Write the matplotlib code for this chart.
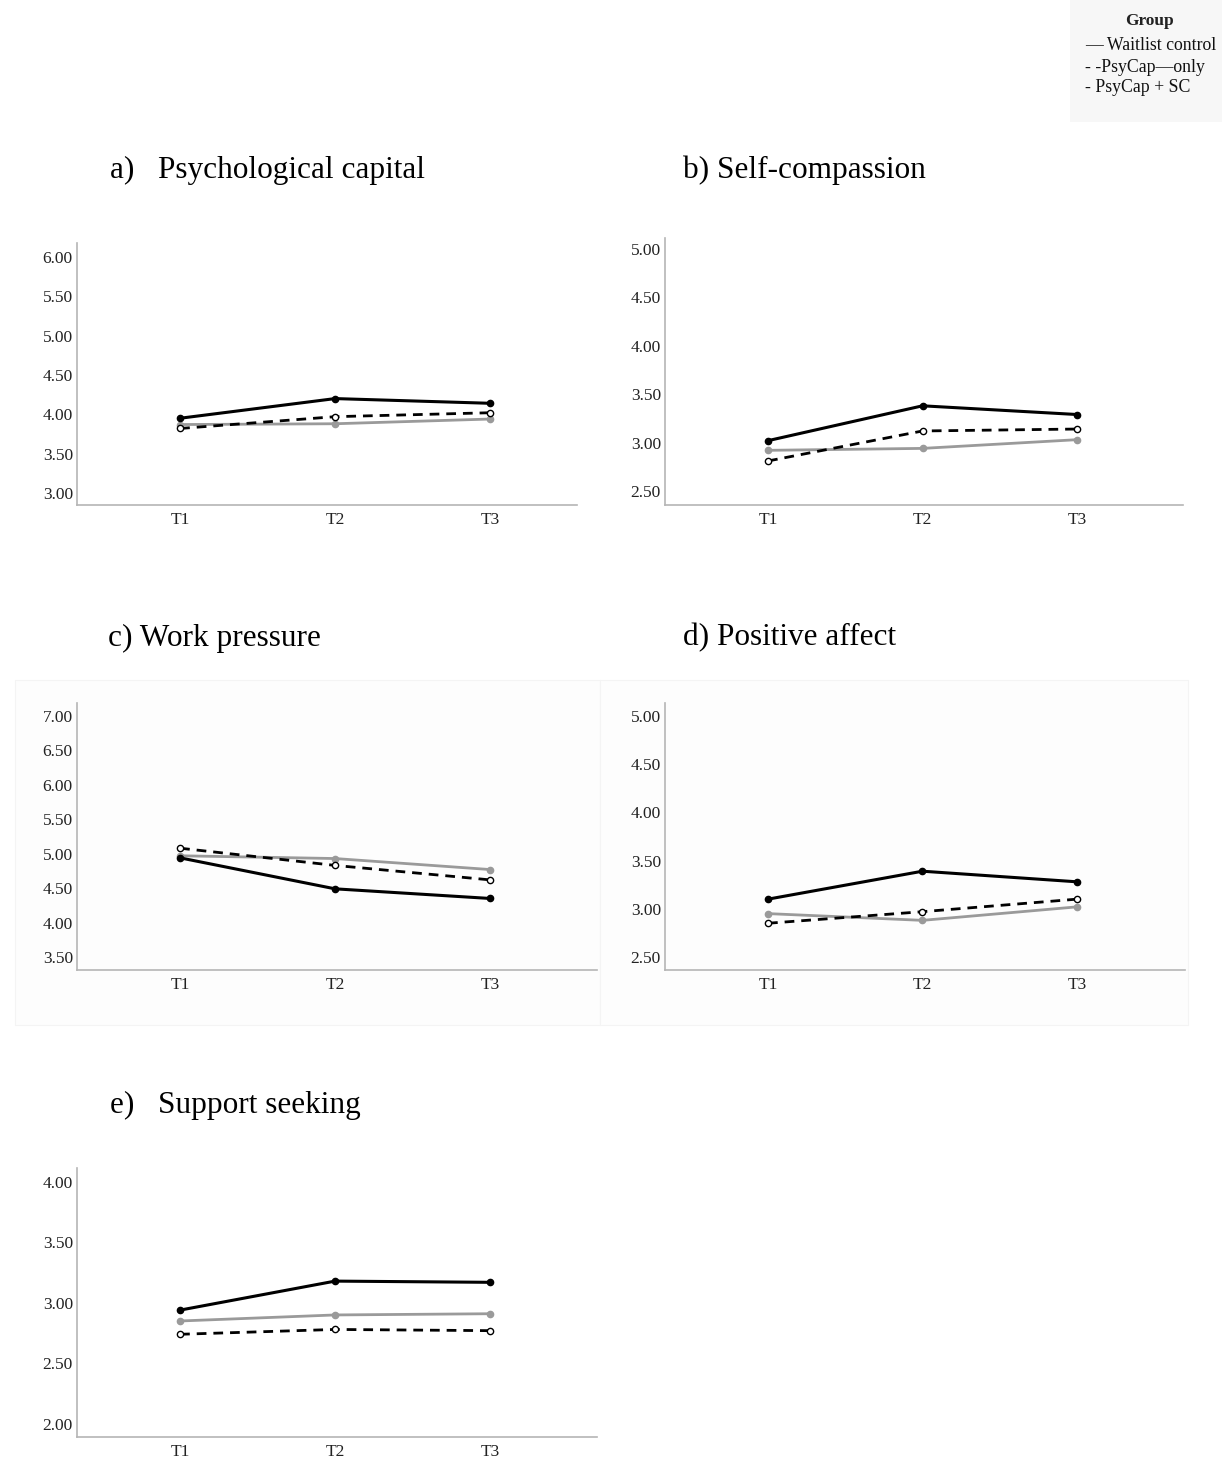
import numpy as np
import matplotlib.pyplot as plt
from matplotlib.patches import Rectangle

W, H = 1222, 1482

times = ['T1', 'T2', 'T3']
groups = ['Waitlist control', 'PsyCap\u2014only', 'PsyCap + SC']

titles = ['a)   Psychological capital', 'b) Self-compassion', 'c) Work pressure',
          'd) Positive affect', 'e)   Support seeking']

# means per panel: waitlist, psycap-only, psycap+sc
psycap = [[3.95, 4.20, 4.14], [3.82, 3.97, 4.02], [3.87, 3.88, 3.94]]
selfcomp = [[3.02, 3.38, 3.29], [2.81, 3.12, 3.14], [2.92, 2.94, 3.03]]
workpress = [[4.94, 4.49, 4.35], [5.08, 4.83, 4.62], [4.97, 4.93, 4.77]]
posaffect = [[3.10, 3.39, 3.28], [2.85, 2.97, 3.10], [2.95, 2.88, 3.02]]
support = [[2.94, 3.18, 3.17], [2.74, 2.78, 2.77], [2.85, 2.90, 2.91]]

ticks_a = [3.0, 3.5, 4.0, 4.5, 5.0, 5.5, 6.0]
ticks_b = [2.5, 3.0, 3.5, 4.0, 4.5, 5.0]
ticks_c = [3.5, 4.0, 4.5, 5.0, 5.5, 6.0, 6.5, 7.0]
ticks_d = [2.5, 3.0, 3.5, 4.0, 4.5, 5.0]
ticks_e = [2.0, 2.5, 3.0, 3.5, 4.0]

plt.rcParams['font.family'] = ['Liberation Serif', 'DejaVu Serif']


def px(l, t, r, b):
    return [l / W, 1 - b / H, (r - l) / W, (b - t) / H]


panels = [
    # data, ticks, axes box, ylim, xlim, title pos
    (psycap, ticks_a, (77, 243, 577, 505), (2.847, 6.178), (-0.665, 2.56), (110, 170)),
    (selfcomp, ticks_b, (665, 238, 1183, 505), (2.355, 5.114), (-0.667, 2.686), (683, 170)),
    (workpress, ticks_c, (77, 703, 597, 970), (3.311, 7.189), (-0.665, 2.69), (108, 638)),
    (posaffect, ticks_d, (665, 703, 1185, 970), (2.365, 5.135), (-0.667, 2.70), (683, 638)),
    (support, ticks_e, (77, 1168, 597, 1437), (1.89, 4.116), (-0.665, 2.69), (110, 1105)),
]

fig = plt.figure(figsize=(W / 100, H / 100), dpi=100)

# faint panel backgrounds for c and d, behind everything
for (l, t, r, b) in [(15, 680, 600, 1025), (600, 680, 1188, 1025)]:
    fig.patches.append(Rectangle((l / W, 1 - b / H), (r - l) / W, (b - t) / H,
                                 transform=fig.transFigure, facecolor='#fdfdfd',
                                 edgecolor='#f4f4f4', lw=0.8, zorder=-5))

x = np.arange(len(times))
for i, (data, ticks, box, ylim, xlim, tpos) in enumerate(panels):
    ax = fig.add_axes(px(*box))
    ax.patch.set_alpha(0)
    ax.plot(x, data[2], color='#9a9a9a', lw=2.0, marker='o', ms=4.5,
            mfc='#9a9a9a', mec='#9a9a9a', zorder=2)
    ax.plot(x, data[1], color='black', lw=2.0, ls=(0, (3.5, 2.5)), marker='o', ms=4.5,
            mfc='white', mec='black', mew=1.0, zorder=3)
    ax.plot(x, data[0], color='black', lw=2.2, marker='o', ms=4.5,
            mfc='black', mec='black', zorder=4)
    ax.set_xlim(*xlim)
    ax.set_ylim(*ylim)
    ax.set_xticks(x)
    ax.set_xticklabels(times)
    ax.set_yticks(ticks)
    ax.set_yticklabels([f'{t:.2f}' for t in ticks])
    ax.tick_params(axis='y', length=0, labelsize=12.5, colors='#222222', pad=3)
    ax.tick_params(axis='x', length=0, labelsize=12.5, colors='#222222', pad=5)
    for s in ['top', 'right']:
        ax.spines[s].set_visible(False)
    for s in ['left', 'bottom']:
        ax.spines[s].set_color('#b5b5b5')
        ax.spines[s].set_linewidth(1.2)
    fig.text(tpos[0] / W, 1 - tpos[1] / H, titles[i], fontsize=22.5,
             ha='left', va='center', color='black')

# legend block, top right
fig.patches.append(Rectangle((1070 / W, 1 - 122 / H), 152 / W, 122 / H,
                             transform=fig.transFigure, facecolor='#f7f7f7',
                             edgecolor='none', zorder=-5))
fig.text(1150 / W, 1 - 21 / H, 'Group', fontsize=12.5, fontweight='bold',
         ha='center', va='center', color='#222222')
leg_lines = ['\u2014 ' + groups[0], '- -' + groups[1], '- ' + groups[2]]
for j, s in enumerate(leg_lines):
    fig.text(1085 / W, 1 - (46 + j * 21) / H, s, fontsize=12.8,
             ha='left', va='center', color='#111111')

fig.savefig('out.png', dpi=100)
